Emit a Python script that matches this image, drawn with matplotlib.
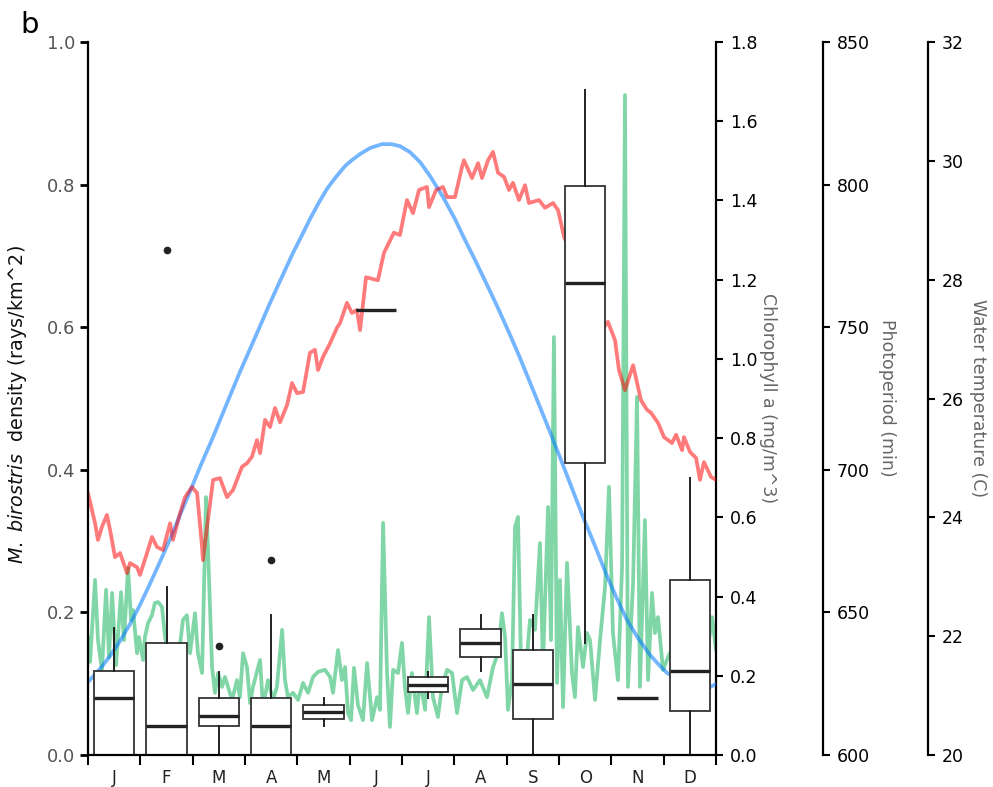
import matplotlib
matplotlib.use('Agg')
import matplotlib.pyplot as plt
import numpy as np

plt.rcParams['font.family'] = ['DejaVu Sans']

# ---------------- data ----------------
months = ['J', 'F', 'M', 'A', 'M', 'J', 'J', 'A', 'S', 'O', 'N', 'D']

# monthly manta density box statistics (rays/km^2)
box_q1 = [0.0, 0.0, 0.041, 0.0, 0.0505, 0.624, 0.089, 0.138, 0.0505, 0.4095, 0.080, 0.062]
box_med = [0.080, 0.041, 0.054, 0.041, 0.061, 0.624, 0.0986, 0.157, 0.099, 0.662, 0.080, 0.118]
box_q3 = [0.118, 0.157, 0.0795, 0.0795, 0.070, 0.624, 0.109, 0.177, 0.147, 0.798, 0.080, 0.245]
whis_lo = [0.0, 0.0, 0.0, 0.0, 0.041, 0.624, 0.080, 0.118, 0.0, 0.157, 0.080, 0.0]
whis_hi = [0.178, 0.235, 0.117, 0.196, 0.0795, 0.624, 0.117, 0.196, 0.196, 0.933, 0.080, 0.388]
outliers = [[], [0.708], [0.153], [0.274], [], [], [], [], [], [], [], []]

# chlorophyll a (mg/m^3) by day of year
chl_day = [0, 1.2, 4.1, 5.8, 8.1, 10.5, 12.2, 14.0, 16.3, 19.2, 20.9, 23.3, 25.0, 26.2, 28.5,
           29.6, 32.0, 33.1, 34.9, 37.2, 38.9, 40.7, 43.0, 44.8, 46.5, 49.4, 52.3, 55.2, 57.5,
           59.3, 62.2, 63.9, 66.3, 68.6, 69.7, 72.1, 73.8, 75.6, 77.9, 79.6, 81.4, 83.7, 86.6,
           88.3, 90.1, 92.4, 94.2, 95.9, 100.0, 101.7, 104.6, 107.5, 109.8, 112.8, 114.5, 116.2,
           119.1, 122.1, 125.0, 127.9, 130.8, 133.7, 137.7, 140.7, 142.4, 145.3, 147.6, 149.4,
           151.1, 152.9, 154.6, 156.9, 159.8, 162.2, 165.1, 168.0, 169.7, 171.5, 173.8, 175.5,
           177.3, 180.2, 182.5, 184.2, 186.0, 188.3, 191.2, 193.0, 195.9, 198.2, 200.5, 203.4,
           205.7, 208.7, 211.6, 214.5, 217.4, 220.3, 223.8, 227.8, 231.9, 235.4, 238.3, 240.6,
           242.4, 244.1, 246.4, 248.2, 249.9, 252.2, 254.0, 256.9, 259.8, 262.7, 264.4, 267.4,
           269.1, 270.8, 272.6, 274.3, 276.1, 278.4, 281.3, 283.0, 284.8, 287.7, 290.0, 291.8,
           294.7, 297.6, 300.5, 302.8, 305.1, 308.0, 310.4, 312.1, 313.8, 316.8, 319.1, 320.8,
           323.7, 325.5, 327.8, 329.5, 331.3, 334.2, 337.1, 340.0, 344.1, 347.0, 352.8, 358.6,
           362.7, 365.0]
chl_val = [0.298, 0.235, 0.442, 0.290, 0.215, 0.417, 0.247, 0.409, 0.227, 0.411, 0.290, 0.472,
           0.341, 0.366, 0.257, 0.298, 0.240, 0.298, 0.333, 0.353, 0.384, 0.386, 0.374, 0.298,
           0.257, 0.273, 0.235, 0.341, 0.353, 0.257, 0.358, 0.257, 0.207, 0.651, 0.525, 0.222,
           0.157, 0.207, 0.172, 0.197, 0.172, 0.139, 0.189, 0.146, 0.257, 0.222, 0.131, 0.172,
           0.240, 0.121, 0.189, 0.139, 0.172, 0.316, 0.189, 0.146, 0.157, 0.139, 0.182, 0.157,
           0.197, 0.210, 0.215, 0.197, 0.157, 0.265, 0.189, 0.222, 0.106, 0.088, 0.220, 0.126,
           0.088, 0.232, 0.088, 0.146, 0.114, 0.586, 0.207, 0.071, 0.215, 0.207, 0.283, 0.172,
           0.106, 0.207, 0.106, 0.189, 0.114, 0.348, 0.146, 0.096, 0.172, 0.215, 0.207, 0.106,
           0.189, 0.197, 0.164, 0.189, 0.146, 0.222, 0.257, 0.358, 0.298, 0.114, 0.189, 0.576,
           0.601, 0.121, 0.189, 0.341, 0.316, 0.535, 0.222, 0.626, 0.290, 1.055, 0.182, 0.442,
           0.121, 0.485, 0.207, 0.146, 0.323, 0.222, 0.308, 0.290, 0.139, 0.290, 0.424, 0.677,
           0.308, 0.189, 0.475, 1.666, 0.172, 0.434, 0.904, 0.172, 0.593, 0.189, 0.409, 0.308,
           0.348, 0.215, 0.247, 0.273, 0.189, 0.240, 0.290, 0.215, 0.348, 0.265]

# photoperiod (min) by day of year
pp_day = [0, 7.0, 12.8, 18.6, 24.4, 30.2, 36.0, 41.8, 47.7, 53.5, 60.4, 65.1, 72.7, 80.8, 88.3,
          94.2, 100.0, 105.8, 111.6, 119.1, 124.4, 129.0, 133.7, 138.9, 143.6, 149.4, 153.4,
          158.1, 163.9, 170.9, 176.1, 181.3, 187.1, 193.0, 198.8, 206.3, 213.3, 219.1, 225.5,
          232.5, 238.3, 245.3, 251.1, 256.3, 262.7, 268.5, 277.2, 287.7, 294.7, 301.6, 307.5,
          313.3, 319.7, 326.6, 332.5, 336.5, 343.0, 349.9, 355.7, 361.5, 365.0]
pp_val = [625.6, 630.2, 634.7, 640.0, 645.9, 652.6, 660.0, 667.7, 675.7, 684.2, 694.0, 701.0,
          711.5, 723.4, 734.3, 742.4, 750.4, 758.5, 766.2, 776.0, 782.3, 787.9, 793.2, 798.5,
          802.3, 806.5, 808.6, 810.7, 812.8, 814.2, 814.2, 813.5, 811.4, 807.9, 803.0, 795.7,
          787.9, 780.6, 772.9, 764.1, 756.7, 747.3, 739.2, 731.5, 722.0, 713.3, 699.9, 683.5,
          673.3, 662.8, 654.7, 647.3, 641.0, 635.1, 631.2, 628.8, 626.3, 624.5, 623.8, 623.8,
          624.9]

# water temperature (C) by day of year
temp_day = [0, 4.1, 5.8, 8.1, 11.0, 12.8, 15.7, 18.6, 22.7, 24.4, 28.5, 30.2, 34.3, 37.2, 40.1,
            43.6, 47.7, 49.4, 53.5, 56.4, 60.4, 63.4, 66.3, 66.8, 69.2, 72.7, 76.7, 80.8, 84.3,
            89.5, 92.4, 95.3, 98.2, 100.0, 102.9, 105.8, 108.7, 111.6, 115.7, 118.6, 121.5,
            125.0, 129.0, 131.9, 133.7, 136.6, 140.7, 144.7, 146.5, 150.5, 153.4, 156.3, 158.1,
            161.6, 168.5, 172.0, 177.8, 181.3, 185.4, 188.9, 192.4, 197.0, 198.2, 202.3, 206.3,
            208.7, 213.3, 217.4, 218.5, 223.2, 226.7, 229.0, 232.5, 235.4, 238.3, 241.8, 244.7,
            247.0, 250.5, 254.0, 256.3, 262.1, 265.6, 270.3, 273.2, 276.7, 283.0, 288.9, 294.7,
            299.9, 302.2, 306.3, 308.6, 312.1, 316.8, 321.4, 324.9, 327.2, 331.3, 334.8, 339.4,
            341.8, 345.3, 346.4, 349.9, 353.4, 355.7, 358.0, 362.1, 365.0]
temp_val = [24.41, 23.90, 23.62, 23.84, 24.04, 23.79, 23.33, 23.40, 23.06, 23.23, 23.16, 23.03,
            23.40, 23.67, 23.50, 23.45, 23.90, 23.62, 24.07, 24.34, 24.51, 24.41, 23.50, 23.28,
            23.84, 24.63, 24.66, 24.34, 24.46, 24.85, 24.91, 25.02, 25.30, 25.08, 25.64, 25.52,
            25.84, 25.60, 25.89, 26.26, 26.09, 26.11, 26.77, 26.82, 26.48, 26.70, 26.93, 27.19,
            27.27, 27.61, 27.44, 27.49, 27.15, 28.04, 27.99, 28.45, 28.79, 28.75, 29.34, 29.12,
            29.51, 29.56, 29.22, 29.51, 29.56, 29.39, 29.39, 29.90, 30.01, 29.71, 29.96, 29.71,
            30.01, 30.15, 29.80, 29.73, 29.51, 29.63, 29.34, 29.59, 29.29, 29.34, 29.21, 29.29,
            29.17, 28.72, 28.30, 27.91, 27.57, 27.20, 27.29, 26.98, 26.48, 26.14, 26.56, 25.97,
            25.81, 25.76, 25.59, 25.35, 25.25, 25.39, 25.13, 25.35, 25.10, 25.00, 24.63, 24.93,
            24.68, 24.63]

# ---------------- figure ----------------
fig = plt.figure(figsize=(9.93, 7.87), dpi=100)
ax = fig.add_axes([0.08862, 0.04066, 0.63243, 0.90597])
ax_chl = ax.twinx()
ax_pp = ax.twinx()
ax_t = ax.twinx()


def to_month(days):
    return np.asarray(days, dtype=float) / 365.0 * 12.0


lw = 2.7
ax_pp.plot(to_month(pp_day), pp_val, color='#0078ff', alpha=0.55, lw=lw,
           solid_joinstyle='round', solid_capstyle='round')
ax_t.plot(to_month(temp_day), temp_val, color='#ff0000', alpha=0.52, lw=lw,
          solid_joinstyle='round', solid_capstyle='round')
ax_chl.plot(to_month(chl_day), chl_val, color='#05af51', alpha=0.5, lw=lw,
            solid_joinstyle='round', solid_capstyle='round')

# twin axes setup
ax_chl.set_ylim(0, 1.8)
ax_chl.set_yticks(np.round(np.arange(0, 1.81, 0.2), 1))
ax_chl.set_yticklabels([f'{v:.1f}' for v in np.arange(0, 1.81, 0.2)])
ax_pp.set_ylim(600, 850)
ax_pp.set_yticks([600, 650, 700, 750, 800, 850])
ax_t.set_ylim(20, 32)
ax_t.set_yticks([20, 22, 24, 26, 28, 30, 32])

ax_pp.spines['right'].set_position(('axes', (823 - 88) / 628))
ax_t.spines['right'].set_position(('axes', (928 - 88) / 628))

for a in (ax_chl, ax_pp, ax_t):
    for s in ('left', 'top', 'bottom'):
        a.spines[s].set_visible(False)
    a.spines['right'].set_linewidth(1.6)
    a.tick_params(axis='y', length=5, width=1.5, labelsize=12.5, pad=5,
                  labelcolor='black', color='black')
    a.set_xlim(0, 12)

# main axes on top of lines
ax.set_zorder(10)
ax.patch.set_visible(False)

stats = []
for i in range(12):
    stats.append(dict(med=box_med[i], q1=box_q1[i], q3=box_q3[i],
                      whislo=whis_lo[i], whishi=whis_hi[i], fliers=outliers[i]))
ax.bxp(stats, positions=np.arange(12) + 0.5, widths=0.765, patch_artist=True,
       showcaps=False, manage_ticks=False,
       boxprops=dict(facecolor='white', edgecolor='#333333', linewidth=1.3),
       medianprops=dict(color='#222222', linewidth=2.4, solid_capstyle='butt'),
       whiskerprops=dict(color='#222222', linewidth=1.4),
       flierprops=dict(marker='o', markerfacecolor='#222222', markeredgecolor='#222222',
                       markersize=4.5))

ax.set_xlim(0, 12)
ax.set_ylim(0, 1.0)
ax.set_yticks(np.round(np.arange(0, 1.01, 0.2), 1))
ax.set_yticklabels([f'{v:.1f}' for v in np.arange(0, 1.01, 0.2)])
ax.tick_params(axis='y', length=6, width=2, labelsize=13, labelcolor='#555555', pad=3)
ax.set_xticks(np.arange(13))
ax.set_xticklabels([])
ax.set_xticks(np.arange(12) + 0.5, minor=True)
ax.set_xticklabels(months, minor=True)
ax.tick_params(axis='x', which='major', length=7, width=1.5, direction='out')
ax.tick_params(axis='x', which='minor', length=0, pad=10, labelsize=12, labelcolor='#222222')
for s in ('top', 'right'):
    ax.spines[s].set_visible(False)
ax.spines['left'].set_linewidth(1.6)
ax.spines['bottom'].set_linewidth(1.6)

# labels
fig.text(20 / 993, 1 - 33 / 787, 'b', fontsize=21, ha='left', va='baseline')
fig.text(18 / 993, 1 - 405 / 787, r'$\it{M.\ birostris}$  density (rays/km^2)',
         rotation=90, ha='center', va='center', fontsize=13.8, color='#111111')
fig.text(768 / 993, 1 - 398 / 787, 'Chlorophyll a (mg/m^3)', rotation=270,
         ha='center', va='center', fontsize=12.5, color='#666666')
fig.text(887 / 993, 1 - 398 / 787, 'Photoperiod (min)', rotation=270,
         ha='center', va='center', fontsize=12.5, color='#666666')
fig.text(978 / 993, 1 - 398 / 787, 'Water temperature (C)', rotation=270,
         ha='center', va='center', fontsize=12.5, color='#666666')

fig.savefig('out.png', dpi=100)
